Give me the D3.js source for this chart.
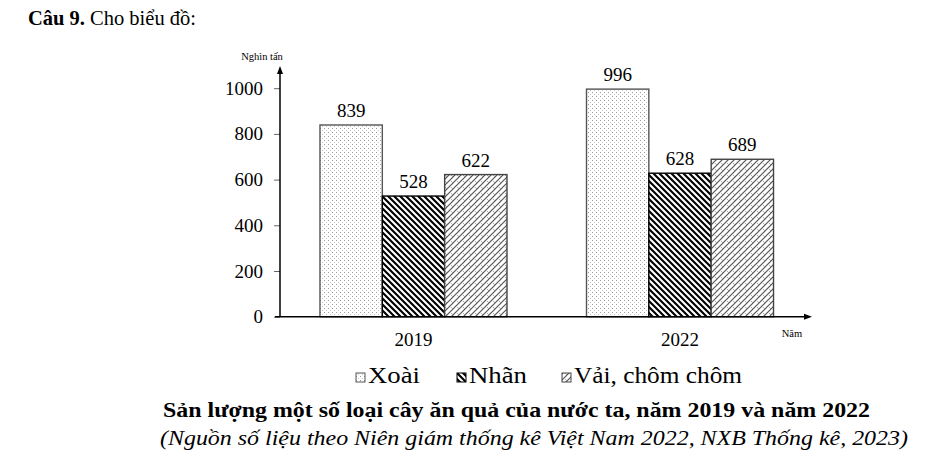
<!DOCTYPE html>
<html><head><meta charset="utf-8">
<script src="https://cdn.jsdelivr.net/npm/d3@7"></script>
<style>body{margin:0;background:#fff}svg{display:block}text{font-family:"Liberation Serif","Times New Roman",serif;fill:#000}</style>
</head><body><svg id="c" width="934" height="455"></svg>
<script>
const years = ["2019", "2022"];
const series = ["Xoài", "Nhãn", "Vải, chôm chôm"];
const xoai = [839, 996];
const nhan = [528, 628];
const vai = [622, 689];
const yTicks = [0, 200, 400, 600, 800, 1000];
const values = [xoai, nhan, vai];

const svg = d3.select("#c");
const defs = svg.append("defs");
// patterns
const pDots = defs.append("pattern").attr("id","pDots").attr("patternUnits","userSpaceOnUse").attr("width",4).attr("height",4);
pDots.append("rect").attr("width",4).attr("height",4).attr("fill","#fff");
pDots.append("rect").attr("x",0).attr("y",0).attr("width",1).attr("height",1).attr("fill","#9a9a9a");
pDots.append("rect").attr("x",2).attr("y",2).attr("width",1).attr("height",1).attr("fill","#c4c4c4");
const pN = defs.append("pattern").attr("id","pN").attr("patternUnits","userSpaceOnUse").attr("width",6).attr("height",6);
pN.append("rect").attr("width",6).attr("height",6).attr("fill","#fff");
pN.append("path").attr("d","M-1,-1L7,7M-1,5L1,7M5,-1L7,1").attr("stroke","#000").attr("stroke-width",2.1);
const pV = defs.append("pattern").attr("id","pV").attr("patternUnits","userSpaceOnUse").attr("width",6).attr("height",6);
pV.append("rect").attr("width",6).attr("height",6).attr("fill","#fff");
pV.append("path").attr("d","M-1,7L7,-1M-1,1L1,-1M5,7L7,5").attr("stroke","#555").attr("stroke-width",1.2);
pV.append("path").attr("d","M1,1L3,3").attr("stroke","#999").attr("stroke-width",0.8);
const fills = ["url(#pDots)","url(#pN)","url(#pV)"];
const strokes = ["#555","#000","#444"];

const y = d3.scaleLinear().domain([0,1000]).range([316.7, 88.2]);
const x0 = d3.scaleBand().domain(years).range([284, 809.5]).paddingInner(0.2983).paddingOuter(0.135);
const x1 = d3.scaleBand().domain(series).range([0, x0.bandwidth()]);

// header
const h = svg.append("text").attr("x",28).attr("y",25).style("font-size","21px")
  .attr("textLength",168).attr("lengthAdjust","spacingAndGlyphs");
h.append("tspan").attr("font-weight","bold").text("Câu 9.");
h.append("tspan").text(" Cho biểu đồ:");

// bars
years.forEach((yr,i)=>{
  series.forEach((s,j)=>{
    const v = values[j][i];
    const bx = x0(yr)+x1(s);
    svg.append("rect").attr("x",bx).attr("y",y(v)).attr("width",x1.bandwidth()).attr("height",y(0)-y(v))
      .attr("fill",fills[j]).attr("stroke",strokes[j]).attr("stroke-width",1.4);
    svg.append("text").attr("x",bx+x1.bandwidth()/2).attr("y",y(v)-8).attr("text-anchor","middle")
      .style("font-size","19px").text(v);
  });
});

// y axis
const yAxis = d3.axisLeft(y).tickValues(yTicks).tickFormat(d3.format("d")).tickSize(6).tickPadding(11).tickSizeOuter(0);
const ga = svg.append("g").attr("transform","translate(280,0)").call(yAxis);
ga.select(".domain").remove();
ga.selectAll("line").attr("stroke","#666").attr("stroke-width",1);
ga.selectAll("text").style("font-size","19px").attr("fill","#000");
svg.append("line").attr("x1",280).attr("x2",280).attr("y1",y(0)).attr("y2",70).attr("stroke","#000").attr("stroke-width",1.5);
svg.append("path").attr("d","M280,66L277,74L283,74Z").attr("fill","#000");
svg.append("text").attr("x",262).attr("y",60).attr("text-anchor","middle").style("font-size","10.5px").text("Nghìn tấn");

// x axis
svg.append("line").attr("x1",275).attr("x2",808).attr("y1",y(0)).attr("y2",y(0)).attr("stroke","#000").attr("stroke-width",1.5);
svg.append("path").attr("d",`M812,${y(0)}L804,${y(0)-3}L804,${y(0)+3}Z`).attr("fill","#000");
years.forEach(yr=>{
  svg.append("text").attr("x",x0(yr)+x0.bandwidth()/2).attr("y",346).attr("text-anchor","middle").style("font-size","19px").text(yr);
});
svg.append("text").attr("x",792).attr("y",337).attr("text-anchor","middle").style("font-size","10.5px").text("Năm");

// legend
const legX = [356, 457, 562];
const legW = [52, 58, 168];
series.forEach((s,j)=>{
  svg.append("rect").attr("x",legX[j]).attr("y",373).attr("width",9).attr("height",9)
    .attr("fill",fills[j]).attr("stroke",strokes[j]).attr("stroke-width",1);
  svg.append("text").attr("x",legX[j]+12).attr("y",383).style("font-size","23px")
    .attr("textLength",legW[j]).attr("lengthAdjust","spacingAndGlyphs").text(s);
});

// titles
svg.append("text").attr("x",163).attr("y",417).attr("font-weight","bold").style("font-size","21px")
  .attr("textLength",707).attr("lengthAdjust","spacingAndGlyphs")
  .text("Sản lượng một số loại cây ăn quả của nước ta, năm 2019 và năm 2022");
svg.append("text").attr("x",160).attr("y",445).attr("font-style","italic").style("font-size","21px")
  .attr("textLength",748).attr("lengthAdjust","spacingAndGlyphs")
  .text("(Nguồn số liệu theo Niên giám thống kê Việt Nam 2022, NXB Thống kê, 2023)");
</script></body></html>
